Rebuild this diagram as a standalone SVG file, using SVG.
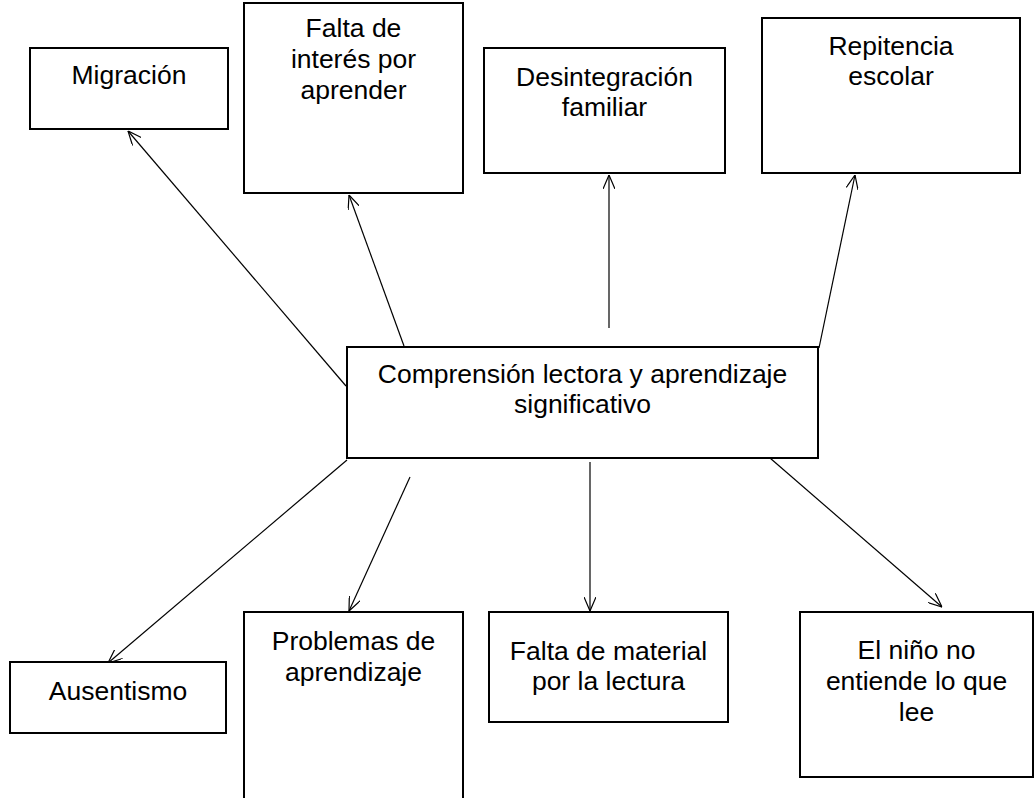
<svg xmlns="http://www.w3.org/2000/svg" width="1036" height="798" viewBox="0 0 1036 798">
<style>
.box{fill:#fff;stroke:#000;stroke-width:2}
.lbl{font-family:"Liberation Sans",Arial,sans-serif;font-size:26.5px;fill:#000;text-anchor:middle}
.con{fill:none;stroke:#000;stroke-width:1.2}
</style>
<defs>
<marker id="arr" viewBox="0 0 14 12" refX="14" refY="6" markerWidth="14" markerHeight="12" markerUnits="userSpaceOnUse" orient="auto">
<path d="M0,0 L14,6 L0,12" fill="none" stroke="#000" stroke-width="1.2"/>
</marker>
</defs>
<rect width="1036" height="798" fill="#fff"/>
<g id="connectors">
<line class="con" x1="346" y1="386" x2="128" y2="131" marker-end="url(#arr)"/>
<line class="con" x1="404" y1="346" x2="349" y2="195" marker-end="url(#arr)"/>
<line class="con" x1="609" y1="328" x2="609" y2="175" marker-end="url(#arr)"/>
<line class="con" x1="819" y1="348" x2="855" y2="175" marker-end="url(#arr)"/>
<line class="con" x1="347" y1="460" x2="108" y2="663" marker-end="url(#arr)"/>
<line class="con" x1="410" y1="477" x2="349" y2="611" marker-end="url(#arr)"/>
<line class="con" x1="590" y1="462" x2="590" y2="611" marker-end="url(#arr)"/>
<line class="con" x1="770" y1="458" x2="942" y2="607" marker-end="url(#arr)"/>
</g>
<g id="migracion">
<rect class="box" x="30" y="48" width="198" height="81"/>
<text class="lbl" x="129" y="84">Migración</text>
</g>
<g id="falta-interes">
<rect class="box" x="244" y="3" width="219" height="190"/>
<text class="lbl" x="353.5" y="37">Falta de</text>
<text class="lbl" x="353.5" y="68">interés por</text>
<text class="lbl" x="353.5" y="99">aprender</text>
</g>
<g id="desintegracion">
<rect class="box" x="484" y="48" width="241" height="125"/>
<text class="lbl" x="604.5" y="86">Desintegración</text>
<text class="lbl" x="604.5" y="116">familiar</text>
</g>
<g id="repitencia">
<rect class="box" x="762" y="18" width="258" height="155"/>
<text class="lbl" x="891" y="55">Repitencia</text>
<text class="lbl" x="891" y="85">escolar</text>
</g>
<g id="central">
<rect class="box" x="347" y="347" width="471" height="111"/>
<text class="lbl" x="582.5" y="383">Comprensión lectora y aprendizaje</text>
<text class="lbl" x="582.5" y="413">significativo</text>
</g>
<g id="ausentismo">
<rect class="box" x="10" y="662" width="216" height="71"/>
<text class="lbl" x="118" y="700">Ausentismo</text>
</g>
<g id="problemas">
<rect class="box" x="244" y="612" width="219" height="200"/>
<text class="lbl" x="353.5" y="650">Problemas de</text>
<text class="lbl" x="353.5" y="681">aprendizaje</text>
</g>
<g id="falta-material">
<rect class="box" x="489" y="612" width="239" height="110"/>
<text class="lbl" x="608.5" y="660">Falta de material</text>
<text class="lbl" x="608.5" y="690">por la lectura</text>
</g>
<g id="nino">
<rect class="box" x="800" y="612" width="233" height="165"/>
<text class="lbl" x="916.5" y="659">El niño no</text>
<text class="lbl" x="916.5" y="690">entiende lo que</text>
<text class="lbl" x="916.5" y="721">lee</text>
</g>
</svg>
